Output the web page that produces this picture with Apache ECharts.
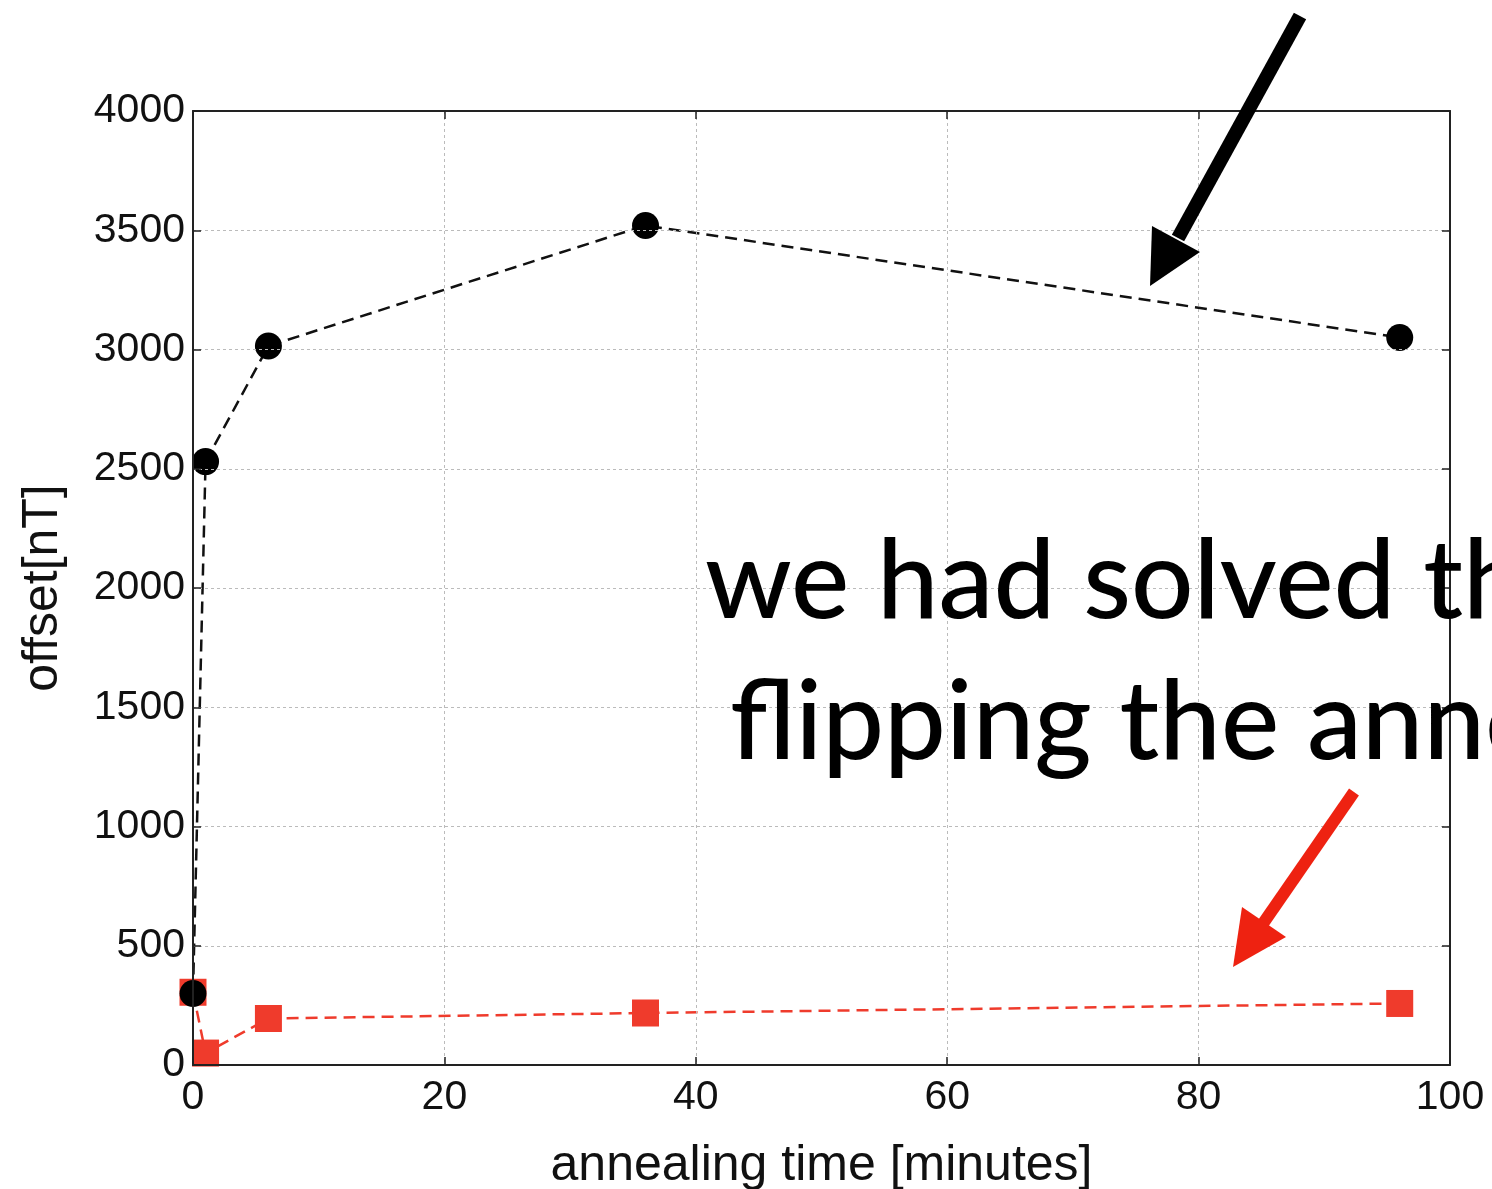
<!DOCTYPE html>
<html>
<head>
<meta charset="utf-8">
<script src="https://cdn.jsdelivr.net/npm/echarts@6/dist/echarts.min.js"></script>
<style>
html,body{margin:0;padding:0;background:#fff;}
#chart{width:1492px;height:1189px;}
</style>
</head>
<body>
<div id="chart"></div>
<script>
// annealing time [minutes]
const timesBlack = [0, 1, 6, 36, 96];
const offsetBlack = [300, 2530, 3015, 3520, 3050];
const timesRed = [0, 1, 6, 36, 96];
const offsetRed = [305, 50, 195, 218, 258];
const xTicks = [0, 20, 40, 60, 80, 100];
const yTicks = [0, 500, 1000, 1500, 2000, 2500, 3000, 3500, 4000];
const annotationLines = ['we had solved the', 'flipping the annealing'];

const chart = echarts.init(document.getElementById('chart'));
const tickFont = {fontFamily: 'Liberation Sans, Arial, sans-serif', fontSize: 41, color: '#111'};
const gridLine = {show: true, lineStyle: {color: '#bbb', type: [3, 3], width: 1}};
const pair = (xs, ys) => xs.map((x, i) => [x, ys[i]]);
const tickStyle = {show: true, inside: true, length: 8, lineStyle: {color: '#222', width: 1.5}};
const frameLine = {show: true, onZero: false, lineStyle: {color: '#222', width: 2}};

chart.setOption({
  animation: false,
  backgroundColor: '#fff',
  grid: {left: 193, right: 42, top: 111, bottom: 124, outerBoundsMode: 'none', containLabel: false},
  xAxis: [{
    type: 'value', min: xTicks[0], max: xTicks[xTicks.length - 1], interval: 20,
    name: 'annealing time [minutes]', nameLocation: 'middle', nameGap: 76,
    nameTextStyle: {fontFamily: 'Liberation Sans, Arial, sans-serif', fontSize: 50, color: '#111'},
    axisLine: frameLine, axisTick: tickStyle,
    axisLabel: Object.assign({margin: 12}, tickFont),
    splitLine: gridLine, z: 5
  }, {
    type: 'value', position: 'top', min: 0, max: 100, interval: 20,
    axisLine: frameLine, axisLabel: {show: false}, splitLine: {show: false},
    axisTick: tickStyle, z: 5
  }],
  yAxis: [{
    type: 'value', min: yTicks[0], max: yTicks[yTicks.length - 1], interval: 500,
    name: 'offset[nT]', nameLocation: 'middle', nameGap: 125, nameRotate: 90,
    nameTextStyle: {fontFamily: 'Liberation Sans, Arial, sans-serif', fontSize: 50, color: '#111'},
    axisLine: frameLine, axisTick: tickStyle,
    axisLabel: Object.assign({margin: 8, formatter: v => String(v)}, tickFont),
    splitLine: gridLine, z: 5
  }, {
    type: 'value', position: 'right', min: 0, max: 4000, interval: 500,
    axisLine: frameLine, axisLabel: {show: false}, splitLine: {show: false},
    axisTick: tickStyle, z: 5
  }],
  series: [{
    type: 'line', data: pair(timesRed, offsetRed),
    symbol: 'rect', symbolSize: 27,
    itemStyle: {color: '#ef3b2c'},
    lineStyle: {color: '#ef3b2c', type: [12, 7], width: 2.5},
    z: 3
  }, {
    type: 'line', data: pair(timesBlack, offsetBlack),
    symbol: 'circle', symbolSize: 27,
    itemStyle: {color: '#000'},
    lineStyle: {color: '#111', type: [12, 7], width: 2.5},
    z: 4
  }],
  graphic: [
    {type: 'line', shape: {x1: 1300, y1: 16, x2: 1178, y2: 238}, style: {stroke: '#000', lineWidth: 14}, z: 10},
    {type: 'polygon', shape: {points: [[1150, 286], [1152, 226], [1200, 252]]}, style: {fill: '#000'}, z: 10},
    {type: 'line', shape: {x1: 1354, y1: 792, x2: 1262, y2: 925}, style: {stroke: '#ee2211', lineWidth: 12}, z: 10},
    {type: 'polygon', shape: {points: [[1233, 967], [1242, 907], [1286, 937]]}, style: {fill: '#ee2211'}, z: 10},
    {type: 'text', left: 705, top: 528, style: {text: annotationLines[0], font: '500 110px Lato, "Noto Sans", sans-serif', fill: '#000'}, z: 10},
    {type: 'text', left: 730, top: 669, style: {text: annotationLines[1], font: '500 110px Lato, "Noto Sans", sans-serif', fill: '#000'}, z: 10}
  ]
});
</script>
</body>
</html>
